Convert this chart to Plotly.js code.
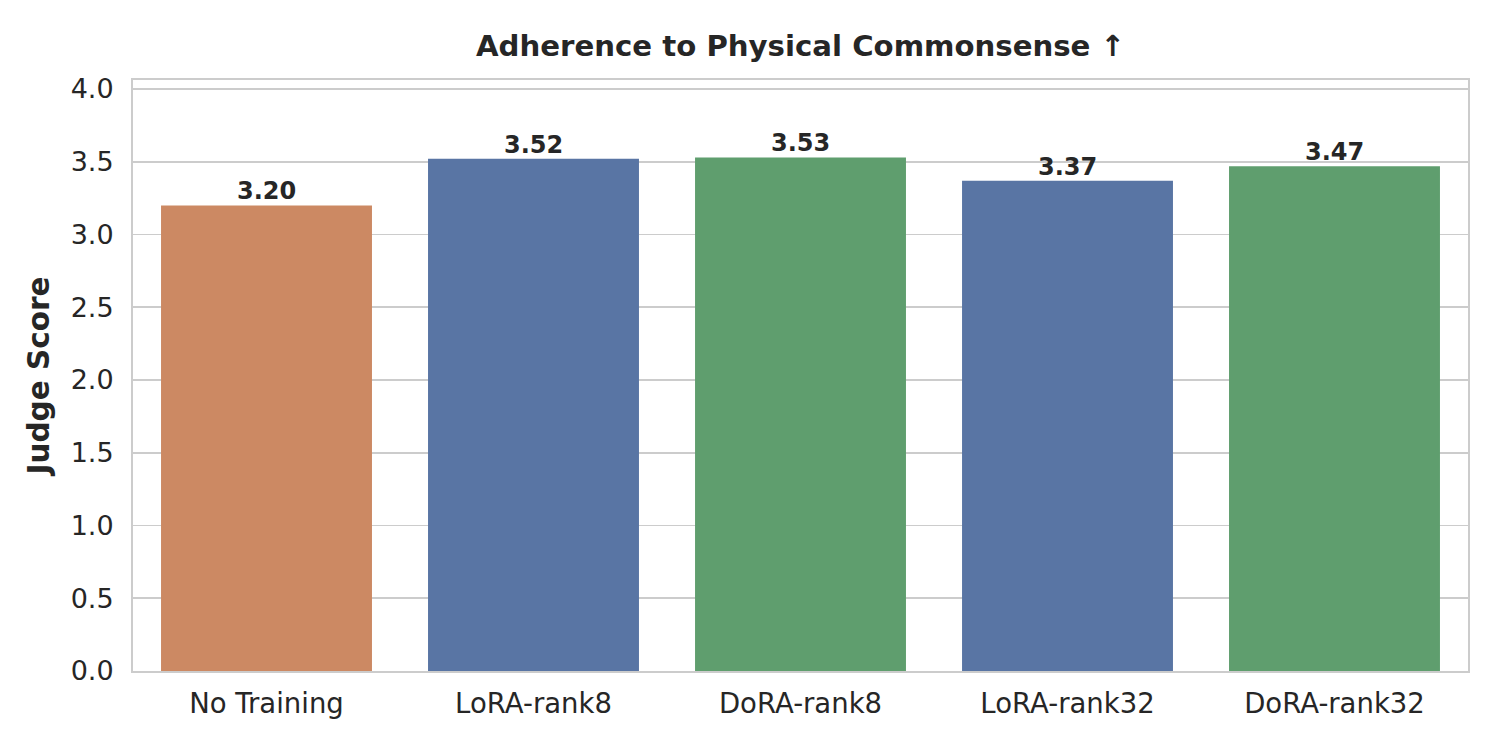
<!DOCTYPE html>
<html>
<head>
<meta charset="utf-8">
<script src="https://cdn.plot.ly/plotly-3.0.1.min.js"></script>
<style>html,body{margin:0;padding:0;background:#fff;}#chart{width:1500px;height:750px;}</style>
</head>
<body>
<div id="chart"></div>
<script>
const categories = ["No Training", "LoRA-rank8", "DoRA-rank8", "LoRA-rank32", "DoRA-rank32"];
const scores = [3.20, 3.52, 3.53, 3.37, 3.47];
const barColors = ["#cc8963", "#5975a4", "#5f9e6e", "#5975a4", "#5f9e6e"];
const yTicks = [0.0, 0.5, 1.0, 1.5, 2.0, 2.5, 3.0, 3.5, 4.0];

const font = "DejaVu Sans, sans-serif";
const textColor = "#262626";

const trace = {
  type: "bar",
  x: categories,
  y: scores,
  width: 0.79,
  marker: {color: barColors, line: {width: 0}},
  hoverinfo: "skip"
};

const annotations = categories.map((c, i) => ({
  x: c, y: scores[i], xref: "x", yref: "y",
  text: "<b>" + scores[i].toFixed(2) + "</b>",
  showarrow: false, yanchor: "bottom", yshift: -2,
  font: {family: font, size: 24, color: textColor}
}));

const layout = {
  width: 1500, height: 750,
  margin: {l: 133, r: 32, t: 80, b: 79},
  paper_bgcolor: "#ffffff", plot_bgcolor: "#ffffff",
  showlegend: false,
  title: {
    text: "<b>Adherence to Physical Commonsense ↑</b>",
    font: {family: font, size: 29.2, color: textColor},
    xref: "paper", x: 0.5, xanchor: "center",
    yref: "container", y: 0.939, yanchor: "middle"
  },
  xaxis: {
    type: "category",
    range: [-0.5, 4.5],
    showgrid: false,
    showline: true, linecolor: "#cccccc", linewidth: 2, mirror: true,
    ticks: "outside", ticklen: 7, tickcolor: "rgba(0,0,0,0)",
    tickfont: {family: font, size: 27.5, color: textColor},
    zeroline: false
  },
  yaxis: {
    range: [0, 4.062],
    tickvals: yTicks,
    ticktext: yTicks.map(v => v.toFixed(1)),
    showgrid: true, gridcolor: "#cccccc", gridwidth: 1.6,
    showline: true, linecolor: "#cccccc", linewidth: 2, mirror: true,
    ticks: "outside", ticklen: 12, tickcolor: "rgba(0,0,0,0)",
    tickfont: {family: font, size: 27, color: textColor},
    zeroline: false,
    title: {
      text: "<b>Judge Score</b>",
      font: {family: font, size: 29.5, color: textColor},
      standoff: 12
    }
  },
  annotations: annotations
};

Plotly.newPlot("chart", [trace], layout, {displayModeBar: false, staticPlot: true});
</script>
</body>
</html>
